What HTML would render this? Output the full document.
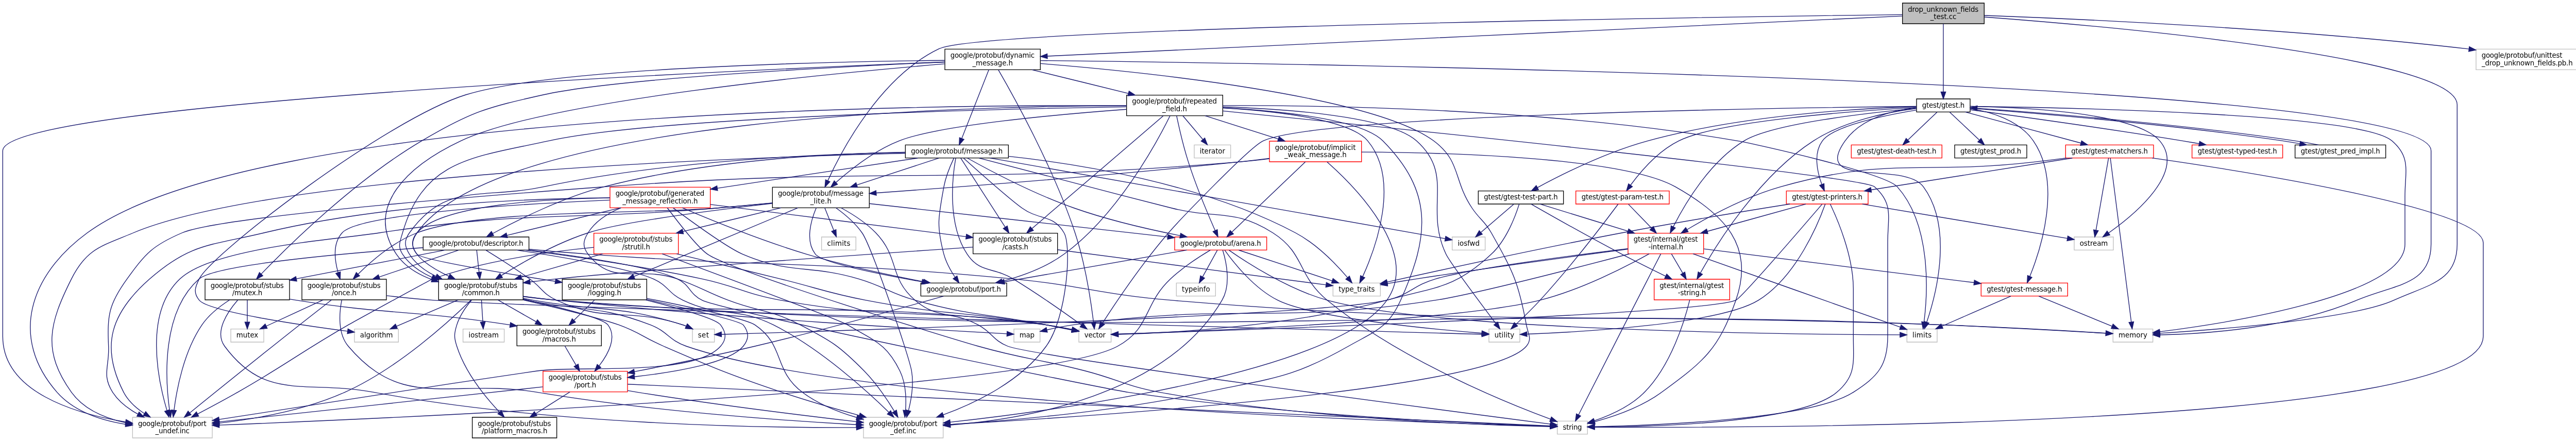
<!DOCTYPE html>
<html lang="en">
<head>
<meta charset="utf-8">
<title>drop_unknown_fields_test.cc include dependency graph</title>
<style>
html,body{margin:0;padding:0;background:#fff;}
body{width:5010px;height:856px;overflow:hidden;}
svg{display:block;will-change:transform;}
.t{font-family:"DejaVu Sans","Liberation Sans",sans-serif;font-size:10px;fill:#000;}
</style>
</head>
<body>
<svg width="5010" height="856" viewBox="0 0 3757.5 642">
<g id="graph0" class="graph" transform="scale(1 1) rotate(0) translate(4 638)">
<polygon fill="white" stroke="none" points="-4,4 -4,-638 3753.5,-638 3753.5,4 -4,4"/>
<g id="node1" class="node">
<polygon fill="#bfbfbf" stroke="black" points="2765.5,-603.5 2765.5,-633.5 2884.5,-633.5 2884.5,-603.5 2765.5,-603.5"/>
<text text-anchor="start" x="2773.5" y="-621.1" class="t" textLength="102.59">drop_unknown_fields</text>
<text text-anchor="middle" x="2825" y="-610.1" class="t" textLength="37.85">_test.cc</text>
</g>
<g id="node2" class="node">
<polygon fill="white" stroke="#bfbfbf" points="3072,-140 3072,-159 3130,-159 3130,-140 3072,-140"/>
<text text-anchor="middle" x="3101" y="-146.6" class="t" textLength="41.83">memory</text>
</g>
<g id="edge1" class="edge">
<path fill="none" stroke="midnightblue" d="M2884.63,-613.27C3061.84,-599.89 3573,-555.27 3573,-485.5 3573,-485.5 3573,-485.5 3573,-282.5 3573,-227.87 3530.69,-223.7 3481,-201 3420.84,-173.52 3225.05,-158.27 3140.49,-152.82"/>
<polygon fill="midnightblue" stroke="midnightblue" points="3140.47,-149.32 3130.27,-152.18 3140.03,-156.3 3140.47,-149.32"/>
</g>
<g id="node3" class="node">
<polygon fill="white" stroke="#bfbfbf" points="3600.5,-536.5 3600.5,-566.5 3749.5,-566.5 3749.5,-536.5 3600.5,-536.5"/>
<text text-anchor="start" x="3608.5" y="-554.1" class="t" textLength="117.53">google/protobuf/unittest</text>
<text text-anchor="middle" x="3675" y="-543.1" class="t" textLength="132.47">_drop_unknown_fields.pb.h</text>
</g>
<g id="edge2" class="edge">
<path fill="none" stroke="midnightblue" d="M2884.95,-615.51C3013.79,-610.79 3326.54,-597.02 3587,-567 3588.08,-566.88 3589.16,-566.75 3590.25,-566.62"/>
<polygon fill="midnightblue" stroke="midnightblue" points="3590.71,-570.09 3600.18,-565.34 3589.81,-563.14 3590.71,-570.09"/>
</g>
<g id="node4" class="node">
<polygon fill="white" stroke="black" points="1371.5,-536.5 1371.5,-566.5 1510.5,-566.5 1510.5,-536.5 1371.5,-536.5"/>
<text text-anchor="start" x="1379.5" y="-554.1" class="t" textLength="122.51">google/protobuf/dynamic</text>
<text text-anchor="middle" x="1441" y="-543.1" class="t" textLength="58.76">_message.h</text>
</g>
<g id="edge3" class="edge">
<path fill="none" stroke="midnightblue" d="M2765.09,-614.69C2543.76,-604.29 1772.08,-568.05 1520.77,-556.25"/>
<polygon fill="midnightblue" stroke="midnightblue" points="1520.78,-552.74 1510.63,-555.77 1520.45,-559.74 1520.78,-552.74"/>
</g>
<g id="node31" class="node">
<polygon fill="white" stroke="black" points="1120.5,-335.5 1120.5,-365.5 1261.5,-365.5 1261.5,-335.5 1120.5,-335.5"/>
<text text-anchor="start" x="1128.5" y="-353.1" class="t" textLength="124.50">google/protobuf/message</text>
<text text-anchor="middle" x="1191" y="-342.1" class="t" textLength="30.88">_lite.h</text>
</g>
<g id="edge116" class="edge">
<path fill="none" stroke="midnightblue" d="M2765.19,-616.77C2498.38,-613.33 1427.16,-597.67 1363,-567 1278.5,-526.61 1222.7,-422.09 1201.08,-375.05"/>
<polygon fill="midnightblue" stroke="midnightblue" points="1204.16,-373.37 1196.88,-365.67 1197.78,-376.23 1204.16,-373.37"/>
</g>
<g id="node38" class="node">
<polygon fill="white" stroke="black" points="2786,-475 2786,-494 2864,-494 2864,-475 2786,-475"/>
<text text-anchor="middle" x="2825" y="-481.6" class="t" textLength="61.75">gtest/gtest.h</text>
</g>
<g id="edge117" class="edge">
<path fill="none" stroke="midnightblue" d="M2825,-603.37C2825,-579.5 2825,-531.18 2825,-504.41"/>
<polygon fill="midnightblue" stroke="midnightblue" points="2828.5,-504.1 2825,-494.1 2821.5,-504.1 2828.5,-504.1"/>
</g>
<g id="edge5" class="edge">
<path fill="none" stroke="midnightblue" d="M1510.67,-549.83C1874.01,-545.91 3535,-522.32 3535,-418.5 3535,-418.5 3535,-418.5 3535,-282.5 3535,-222.37 3482.39,-224.42 3427,-201 3329.76,-159.88 3203.53,-151.79 3140.48,-150.49"/>
<polygon fill="midnightblue" stroke="midnightblue" points="3140.24,-146.99 3130.19,-150.33 3140.13,-153.98 3140.24,-146.99"/>
</g>
<g id="node5" class="node">
<polygon fill="white" stroke="#bfbfbf" points="512,-140 512,-159 576,-159 576,-140 512,-140"/>
<text text-anchor="middle" x="544" y="-146.6" class="t" textLength="47.81">algorithm</text>
</g>
<g id="edge4" class="edge">
<path fill="none" stroke="midnightblue" d="M1371.42,-550.04C1207.86,-548.31 803.06,-539.99 674,-500 560.12,-464.72 305.24,-269.88 286,-232 279.76,-219.72 277.24,-211.64 286,-201 299.62,-184.45 432.18,-165 501.79,-155.81"/>
<polygon fill="midnightblue" stroke="midnightblue" points="502.52,-159.25 511.98,-154.48 501.61,-152.3 502.52,-159.25"/>
</g>
<g id="node6" class="node">
<polygon fill="white" stroke="#bfbfbf" points="1566.5,-140 1566.5,-159 1613.5,-159 1613.5,-140 1566.5,-140"/>
<text text-anchor="middle" x="1590" y="-146.6" class="t" textLength="30.88">vector</text>
</g>
<g id="edge6" class="edge">
<path fill="none" stroke="midnightblue" d="M1449.37,-536.3C1471.09,-498.82 1529.74,-393.63 1561,-299 1575.99,-253.62 1584.32,-197.74 1587.89,-169.2"/>
<polygon fill="midnightblue" stroke="midnightblue" points="1591.39,-169.41 1589.09,-159.06 1584.44,-168.58 1591.39,-169.41"/>
</g>
<g id="node7" class="node">
<polygon fill="white" stroke="black" points="634.5,-201.5 634.5,-231.5 757.5,-231.5 757.5,-201.5 634.5,-201.5"/>
<text text-anchor="start" x="642.5" y="-219.1" class="t" textLength="106.57">google/protobuf/stubs</text>
<text text-anchor="middle" x="696" y="-208.1" class="t" textLength="54.78">/common.h</text>
</g>
<g id="edge7" class="edge">
<path fill="none" stroke="midnightblue" d="M1371.26,-545.03C1205.37,-531.21 791.82,-491.75 667,-433 590.64,-397.06 526,-338.1 573,-268 585.04,-250.04 604.74,-238.46 624.87,-231"/>
<polygon fill="midnightblue" stroke="midnightblue" points="626.1,-234.28 634.45,-227.76 623.85,-227.65 626.1,-234.28"/>
</g>
<g id="node14" class="node">
<polygon fill="white" stroke="#bfbfbf" points="1253,-0.5 1253,-30.5 1369,-30.5 1369,-0.5 1253,-0.5"/>
<text text-anchor="start" x="1261" y="-18.1" class="t" textLength="99.60">google/protobuf/port</text>
<text text-anchor="middle" x="1311" y="-7.1" class="t" textLength="37.85">_def.inc</text>
</g>
<g id="edge114" class="edge">
<path fill="none" stroke="midnightblue" d="M1510.76,-545.43C1657.65,-533.54 1992.73,-499.71 2083,-433 2123.34,-403.19 2111.09,-376.68 2139,-335 2150.28,-318.16 2157.06,-316.67 2167,-299 2198.24,-243.46 2206.48,-227.67 2218,-165 2220.49,-151.45 2226.87,-144.54 2218,-134 2163.97,-69.83 1581.08,-31.54 1379.29,-20.12"/>
<polygon fill="midnightblue" stroke="midnightblue" points="1379.29,-16.62 1369.11,-19.55 1378.9,-23.61 1379.29,-16.62"/>
</g>
<g id="node15" class="node">
<polygon fill="white" stroke="#bfbfbf" points="189,-0.5 189,-30.5 305,-30.5 305,-0.5 189,-0.5"/>
<text text-anchor="start" x="197" y="-18.1" class="t" textLength="99.60">google/protobuf/port</text>
<text text-anchor="middle" x="247" y="-7.1" class="t" textLength="49.80">_undef.inc</text>
</g>
<g id="edge115" class="edge">
<path fill="none" stroke="midnightblue" d="M1371.5,-547.82C1083.65,-536.28 0,-488.21 0,-418.5 0,-418.5 0,-418.5 0,-148.5 0,-67.12 105.59,-35.73 178.69,-23.75"/>
<polygon fill="midnightblue" stroke="midnightblue" points="179.43,-27.17 188.78,-22.18 178.36,-20.26 179.43,-27.17"/>
</g>
<g id="node17" class="node">
<polygon fill="white" stroke="black" points="1314,-408 1314,-427 1464,-427 1464,-408 1314,-408"/>
<text text-anchor="middle" x="1389" y="-414.6" class="t" textLength="133.46">google/protobuf/message.h</text>
</g>
<g id="edge25" class="edge">
<path fill="none" stroke="midnightblue" d="M1435.44,-536.37C1425.95,-512.29 1406.65,-463.31 1396.17,-436.7"/>
<polygon fill="midnightblue" stroke="midnightblue" points="1399.31,-435.12 1392.39,-427.1 1392.8,-437.68 1399.31,-435.12"/>
</g>
<g id="node27" class="node">
<polygon fill="white" stroke="black" points="294.5,-201.5 294.5,-231.5 417.5,-231.5 417.5,-201.5 294.5,-201.5"/>
<text text-anchor="start" x="302.5" y="-219.1" class="t" textLength="106.57">google/protobuf/stubs</text>
<text text-anchor="middle" x="356" y="-208.1" class="t" textLength="43.82">/mutex.h</text>
</g>
<g id="edge93" class="edge">
<path fill="none" stroke="midnightblue" d="M1371.35,-547.63C1226.42,-541.25 896.76,-524.48 787,-500 704.9,-481.69 682.46,-475.72 610,-433 513.16,-375.9 416.92,-281.25 376.22,-239.01"/>
<polygon fill="midnightblue" stroke="midnightblue" points="378.72,-236.56 369.28,-231.75 373.66,-241.4 378.72,-236.56"/>
</g>
<g id="node35" class="node">
<polygon fill="white" stroke="black" points="1636,-469.5 1636,-499.5 1776,-499.5 1776,-469.5 1636,-469.5"/>
<text text-anchor="start" x="1644" y="-487.1" class="t" textLength="123.50">google/protobuf/repeated</text>
<text text-anchor="middle" x="1706" y="-476.1" class="t" textLength="35.86">_field.h</text>
</g>
<g id="edge94" class="edge">
<path fill="none" stroke="midnightblue" d="M1498.17,-536.48C1539.39,-526.37 1595.17,-512.68 1638.57,-502.04"/>
<polygon fill="midnightblue" stroke="midnightblue" points="1639.59,-505.39 1648.47,-499.61 1637.92,-498.59 1639.59,-505.39"/>
</g>
<g id="edge11" class="edge">
<path fill="none" stroke="midnightblue" d="M757.54,-206.14C773.3,-204.08 790.25,-202.17 806,-201 1700.99,-134.25 1928.08,-196.55 2825,-165 2909.29,-162.04 3007.96,-156.31 3061.51,-153.01"/>
<polygon fill="midnightblue" stroke="midnightblue" points="3061.84,-156.49 3071.6,-152.38 3061.41,-149.51 3061.84,-156.49"/>
</g>
<g id="edge8" class="edge">
<path fill="none" stroke="midnightblue" d="M663.02,-201.4C636.23,-189.94 598.81,-173.94 573.12,-162.95"/>
<polygon fill="midnightblue" stroke="midnightblue" points="574.46,-159.72 563.89,-159.01 571.71,-166.16 574.46,-159.72"/>
</g>
<g id="edge14" class="edge">
<path fill="none" stroke="midnightblue" d="M757.57,-206.49C773.33,-204.43 790.27,-202.43 806,-201 1121.99,-172.24 1204.22,-204.86 1519,-165 1531.36,-163.44 1544.77,-160.91 1556.58,-158.41"/>
<polygon fill="midnightblue" stroke="midnightblue" points="1557.47,-161.8 1566.48,-156.23 1555.96,-154.96 1557.47,-161.8"/>
</g>
<g id="node8" class="node">
<polygon fill="white" stroke="#bfbfbf" points="670,-140 670,-159 730,-159 730,-140 670,-140"/>
<text text-anchor="middle" x="700" y="-146.6" class="t" textLength="43.82">iostream</text>
</g>
<g id="edge9" class="edge">
<path fill="none" stroke="midnightblue" d="M696.87,-201.4C697.45,-191.96 698.22,-179.45 698.85,-169.19"/>
<polygon fill="midnightblue" stroke="midnightblue" points="702.34,-169.39 699.46,-159.19 695.36,-168.96 702.34,-169.39"/>
</g>
<g id="node9" class="node">
<polygon fill="white" stroke="#bfbfbf" points="1472,-140 1472,-159 1510,-159 1510,-140 1472,-140"/>
<text text-anchor="middle" x="1491" y="-146.6" class="t" textLength="21.91">map</text>
</g>
<g id="edge10" class="edge">
<path fill="none" stroke="midnightblue" d="M757.6,-206.75C773.35,-204.68 790.29,-202.61 806,-201 1059.31,-174.99 1366.66,-157.23 1461.63,-152.06"/>
<polygon fill="midnightblue" stroke="midnightblue" points="1462.1,-155.54 1471.9,-151.5 1461.72,-148.55 1462.1,-155.54"/>
</g>
<g id="node10" class="node">
<polygon fill="white" stroke="#bfbfbf" points="1004,-140 1004,-159 1036,-159 1036,-140 1004,-140"/>
<text text-anchor="middle" x="1020" y="-146.6" class="t" textLength="15.94">set</text>
</g>
<g id="edge12" class="edge">
<path fill="none" stroke="midnightblue" d="M757.78,-203.58C762.59,-202.69 767.37,-201.82 772,-201 868.68,-183.8 896.39,-194.67 990,-165 991.67,-164.47 993.36,-163.87 995.05,-163.21"/>
<polygon fill="midnightblue" stroke="midnightblue" points="996.73,-166.29 1004.47,-159.05 993.91,-159.89 996.73,-166.29"/>
</g>
<g id="node11" class="node">
<polygon fill="white" stroke="#bfbfbf" points="2263,-6 2263,-25 2307,-25 2307,-6 2263,-6"/>
<text text-anchor="middle" x="2285" y="-12.6" class="t" textLength="27.89">string</text>
</g>
<g id="edge13" class="edge">
<path fill="none" stroke="midnightblue" d="M757.69,-202.11C759.48,-201.73 761.25,-201.36 763,-201 842.87,-184.37 866.86,-194.31 943,-165 968.11,-155.33 969.59,-142.85 995,-134 1237.85,-49.39 2076.41,-22.18 2252.43,-17.34"/>
<polygon fill="midnightblue" stroke="midnightblue" points="2252.7,-20.83 2262.6,-17.06 2252.51,-13.83 2252.7,-20.83"/>
</g>
<g id="node12" class="node">
<polygon fill="white" stroke="red" points="786.5,-67.5 786.5,-97.5 909.5,-97.5 909.5,-67.5 786.5,-67.5"/>
<text text-anchor="start" x="794.5" y="-85.1" class="t" textLength="106.57">google/protobuf/stubs</text>
<text text-anchor="middle" x="848" y="-74.1" class="t" textLength="31.87">/port.h</text>
</g>
<g id="edge15" class="edge">
<path fill="none" stroke="midnightblue" d="M757.99,-202.47C808.7,-191.18 873.27,-175.12 881,-165 894.61,-147.17 881.72,-122.96 868.27,-105.56"/>
<polygon fill="midnightblue" stroke="midnightblue" points="870.8,-103.12 861.74,-97.63 865.39,-107.57 870.8,-103.12"/>
</g>
<g id="node13" class="node">
<polygon fill="white" stroke="black" points="683.5,-0.5 683.5,-30.5 806.5,-30.5 806.5,-0.5 683.5,-0.5"/>
<text text-anchor="start" x="691.5" y="-18.1" class="t" textLength="106.57">google/protobuf/stubs</text>
<text text-anchor="middle" x="745" y="-7.1" class="t" textLength="95.62">/platform_macros.h</text>
</g>
<g id="edge22" class="edge">
<path fill="none" stroke="midnightblue" d="M682.64,-201.32C674.66,-191.84 665.27,-178.64 661,-165 656.89,-151.85 656.79,-147.12 661,-134 673.14,-96.15 702.46,-60.12 723.02,-38.17"/>
<polygon fill="midnightblue" stroke="midnightblue" points="725.75,-40.38 730.15,-30.74 720.7,-35.53 725.75,-40.38"/>
</g>
<g id="edge23" class="edge">
<path fill="none" stroke="midnightblue" d="M757.79,-201.4C806.97,-189.91 871.61,-174.14 897,-165 927.11,-154.16 932.62,-146.71 962,-134 1037.3,-101.43 1056.25,-93.17 1134,-67 1171.07,-54.52 1213.17,-42.43 1247,-33.21"/>
<polygon fill="midnightblue" stroke="midnightblue" points="1248.02,-36.56 1256.76,-30.56 1246.19,-29.8 1248.02,-36.56"/>
</g>
<g id="edge24" class="edge">
<path fill="none" stroke="midnightblue" d="M682.07,-201.44C651.63,-171.59 575.65,-101.77 498,-67 439.43,-40.77 367.09,-28.07 315.14,-21.97"/>
<polygon fill="midnightblue" stroke="midnightblue" points="315.36,-18.47 305.03,-20.84 314.58,-25.43 315.36,-18.47"/>
</g>
<g id="node16" class="node">
<polygon fill="white" stroke="black" points="748.5,-134.5 748.5,-164.5 871.5,-164.5 871.5,-134.5 748.5,-134.5"/>
<text text-anchor="start" x="756.5" y="-152.1" class="t" textLength="106.57">google/protobuf/stubs</text>
<text text-anchor="middle" x="810" y="-141.1" class="t" textLength="48.80">/macros.h</text>
</g>
<g id="edge20" class="edge">
<path fill="none" stroke="midnightblue" d="M720.74,-201.4C737.02,-192.11 758.54,-179.84 776.37,-169.67"/>
<polygon fill="midnightblue" stroke="midnightblue" points="778.36,-172.57 785.31,-164.58 774.89,-166.49 778.36,-172.57"/>
</g>
<g id="edge16" class="edge">
<path fill="none" stroke="midnightblue" d="M909.75,-78.71C1156.78,-67.53 2069.4,-26.25 2252.78,-17.96"/>
<polygon fill="midnightblue" stroke="midnightblue" points="2253.03,-21.45 2262.86,-17.5 2252.71,-14.46 2253.03,-21.45"/>
</g>
<g id="edge17" class="edge">
<path fill="none" stroke="midnightblue" d="M825.65,-67.4C811.07,-58.2 791.85,-46.07 775.83,-35.95"/>
<polygon fill="midnightblue" stroke="midnightblue" points="777.63,-32.95 767.31,-30.58 773.89,-38.87 777.63,-32.95"/>
</g>
<g id="edge18" class="edge">
<path fill="none" stroke="midnightblue" d="M909.75,-69.4C914.56,-68.56 919.36,-67.75 924,-67 1035.25,-49.15 1165.25,-33.18 1242.71,-24.18"/>
<polygon fill="midnightblue" stroke="midnightblue" points="1243.29,-27.64 1252.82,-23.01 1242.49,-20.68 1243.29,-27.64"/>
</g>
<g id="edge19" class="edge">
<path fill="none" stroke="midnightblue" d="M786.23,-74.82C673.01,-62.57 433.07,-36.62 315.22,-23.88"/>
<polygon fill="midnightblue" stroke="midnightblue" points="315.55,-20.39 305.23,-22.8 314.8,-27.35 315.55,-20.39"/>
</g>
<g id="edge21" class="edge">
<path fill="none" stroke="midnightblue" d="M818.25,-134.4C823.03,-126.22 829.16,-115.73 834.62,-106.39"/>
<polygon fill="midnightblue" stroke="midnightblue" points="837.75,-107.98 839.77,-97.58 831.7,-104.44 837.75,-107.98"/>
</g>
<g id="edge29" class="edge">
<path fill="none" stroke="midnightblue" d="M1387.29,-407.87C1382.95,-383.51 1373.9,-313.03 1404,-268 1422.78,-239.9 1442.12,-249.58 1471,-232 1506.88,-210.16 1546.83,-181.95 1570.11,-165.1"/>
<polygon fill="midnightblue" stroke="midnightblue" points="1572.43,-167.74 1578.45,-159.03 1568.31,-162.08 1572.43,-167.74"/>
</g>
<g id="edge33" class="edge">
<path fill="none" stroke="midnightblue" d="M1313.53,-416.12C1198.64,-414.22 973.54,-405.24 787,-366 697.32,-347.14 645.24,-373.59 592,-299 584,-287.79 584.69,-279.68 592,-268 600.95,-253.7 615.24,-243.35 630.39,-235.89"/>
<polygon fill="midnightblue" stroke="midnightblue" points="632.21,-238.91 639.9,-231.61 629.34,-232.52 632.21,-238.91"/>
</g>
<g id="edge27" class="edge">
<path fill="none" stroke="midnightblue" d="M1421.4,-407.9C1478.18,-392.86 1599.38,-360.93 1702,-335 1767.22,-318.52 1792.23,-335.09 1849,-299 1896.21,-268.99 1884.66,-236.38 1928,-201 2034.15,-114.34 2187.57,-52.05 2253.24,-27.75"/>
<polygon fill="midnightblue" stroke="midnightblue" points="2254.45,-31.03 2262.64,-24.31 2252.04,-24.46 2254.45,-31.03"/>
</g>
<g id="edge91" class="edge">
<path fill="none" stroke="midnightblue" d="M1398.73,-407.77C1419.24,-389.43 1466.5,-347.52 1484,-335 1509.6,-316.68 1529.39,-326.34 1545,-299 1556.16,-279.45 1549.51,-176.37 1519,-134 1482.49,-83.31 1416.94,-51.59 1369.16,-34.07"/>
<polygon fill="midnightblue" stroke="midnightblue" points="1370.15,-30.7 1359.55,-30.65 1367.8,-37.3 1370.15,-30.7"/>
</g>
<g id="edge92" class="edge">
<path fill="none" stroke="midnightblue" d="M1313.85,-414.89C1084.18,-409.07 394.74,-384.73 190,-299 144,-279.74 122.38,-276.56 100,-232 67.09,-166.47 57.39,-126.69 100,-67 118.1,-41.64 149.77,-28.89 179.09,-22.52"/>
<polygon fill="midnightblue" stroke="midnightblue" points="179.78,-25.95 188.92,-20.6 178.44,-19.08 179.78,-25.95"/>
</g>
<g id="node18" class="node">
<polygon fill="white" stroke="#bfbfbf" points="2110,-274 2110,-293 2158,-293 2158,-274 2110,-274"/>
<text text-anchor="middle" x="2134" y="-280.6" class="t" textLength="31.87">iosfwd</text>
</g>
<g id="edge26" class="edge">
<path fill="none" stroke="midnightblue" d="M1437.02,-407.99C1576.49,-383.28 1979.29,-311.91 2099.64,-290.59"/>
<polygon fill="midnightblue" stroke="midnightblue" points="2100.52,-293.99 2109.75,-288.8 2099.3,-287.09 2100.52,-293.99"/>
</g>
<g id="node19" class="node">
<polygon fill="white" stroke="#bfbfbf" points="1936.5,-207 1936.5,-226 2005.5,-226 2005.5,-207 1936.5,-207"/>
<text text-anchor="middle" x="1971" y="-213.6" class="t" textLength="52.79">type_traits</text>
</g>
<g id="edge28" class="edge">
<path fill="none" stroke="midnightblue" d="M1464.12,-410.42C1564.51,-399.73 1745.59,-371.36 1882,-299 1913.14,-282.48 1941.79,-252.48 1957.77,-233.85"/>
<polygon fill="midnightblue" stroke="midnightblue" points="1960.46,-236.09 1964.19,-226.17 1955.09,-231.6 1960.46,-236.09"/>
</g>
<g id="node20" class="node">
<polygon fill="white" stroke="black" points="1412.5,-268.5 1412.5,-298.5 1535.5,-298.5 1535.5,-268.5 1412.5,-268.5"/>
<text text-anchor="start" x="1420.5" y="-286.1" class="t" textLength="106.57">google/protobuf/stubs</text>
<text text-anchor="middle" x="1474" y="-275.1" class="t" textLength="37.85">/casts.h</text>
</g>
<g id="edge30" class="edge">
<path fill="none" stroke="midnightblue" d="M1394.58,-407.84C1407.56,-387.67 1440.17,-337.03 1459.33,-307.29"/>
<polygon fill="midnightblue" stroke="midnightblue" points="1462.33,-309.09 1464.8,-298.78 1456.45,-305.3 1462.33,-309.09"/>
</g>
<g id="node21" class="node">
<polygon fill="white" stroke="red" points="1706,-274 1706,-293 1840,-293 1840,-274 1706,-274"/>
<text text-anchor="middle" x="1773" y="-280.6" class="t" textLength="117.53">google/protobuf/arena.h</text>
</g>
<g id="edge34" class="edge">
<path fill="none" stroke="midnightblue" d="M1404.09,-407.95C1433.34,-391.7 1500.14,-356.09 1560,-335 1610.77,-317.11 1670.57,-303.56 1713.86,-295.02"/>
<polygon fill="midnightblue" stroke="midnightblue" points="1714.79,-298.4 1723.94,-293.06 1713.45,-291.53 1714.79,-298.4"/>
</g>
<g id="node25" class="node">
<polygon fill="white" stroke="black" points="1336.5,-207 1336.5,-226 1461.5,-226 1461.5,-207 1336.5,-207"/>
<text text-anchor="middle" x="1399" y="-213.6" class="t" textLength="108.56">google/protobuf/port.h</text>
</g>
<g id="edge90" class="edge">
<path fill="none" stroke="midnightblue" d="M1384.64,-407.84C1379.95,-397.99 1372.78,-381.3 1370,-366 1362.21,-323.15 1358.78,-310.08 1370,-268 1373.2,-255.98 1380.02,-243.86 1386.25,-234.5"/>
<polygon fill="midnightblue" stroke="midnightblue" points="1389.21,-236.36 1392.11,-226.17 1383.49,-232.33 1389.21,-236.36"/>
</g>
<g id="node26" class="node">
<polygon fill="white" stroke="black" points="612,-274 612,-293 766,-293 766,-274 612,-274"/>
<text text-anchor="middle" x="689" y="-280.6" class="t" textLength="137.45">google/protobuf/descriptor.h</text>
</g>
<g id="edge43" class="edge">
<path fill="none" stroke="midnightblue" d="M1313.66,-416.46C1212.32,-414.74 1027.26,-405.76 875,-366 814.2,-350.12 747.9,-316.84 713.23,-298.09"/>
<polygon fill="midnightblue" stroke="midnightblue" points="714.77,-294.95 704.32,-293.22 711.41,-301.09 714.77,-294.95"/>
</g>
<g id="node30" class="node">
<polygon fill="white" stroke="red" points="884,-335.5 884,-365.5 1030,-365.5 1030,-335.5 884,-335.5"/>
<text text-anchor="start" x="892" y="-353.1" class="t" textLength="129.48">google/protobuf/generated</text>
<text text-anchor="middle" x="957" y="-342.1" class="t" textLength="109.56">_message_reflection.h</text>
</g>
<g id="edge61" class="edge">
<path fill="none" stroke="midnightblue" d="M1332.08,-407.94C1257.48,-396.71 1126.07,-376.94 1040.27,-364.03"/>
<polygon fill="midnightblue" stroke="midnightblue" points="1040.71,-360.56 1030.3,-362.53 1039.67,-367.48 1040.71,-360.56"/>
</g>
<g id="edge71" class="edge">
<path fill="none" stroke="midnightblue" d="M1362.71,-407.87C1332.48,-397.95 1282.11,-381.41 1243.71,-368.81"/>
<polygon fill="midnightblue" stroke="midnightblue" points="1244.32,-365.32 1233.73,-365.53 1242.14,-371.97 1244.32,-365.32"/>
</g>
<g id="edge31" class="edge">
<path fill="none" stroke="midnightblue" d="M1412.44,-278.29C1270.34,-268.49 922.7,-244.09 806,-232 793.6,-230.72 780.45,-229.15 767.7,-227.54"/>
<polygon fill="midnightblue" stroke="midnightblue" points="767.96,-224.04 757.6,-226.23 767.07,-230.98 767.96,-224.04"/>
</g>
<g id="edge32" class="edge">
<path fill="none" stroke="midnightblue" d="M1535.69,-274.43C1637.22,-261.15 1837.13,-235.01 1926.27,-223.35"/>
<polygon fill="midnightblue" stroke="midnightblue" points="1926.86,-226.8 1936.32,-222.04 1925.95,-219.86 1926.86,-226.8"/>
</g>
<g id="edge41" class="edge">
<path fill="none" stroke="midnightblue" d="M1775.96,-273.92C1780.81,-258.22 1788.64,-224.34 1775,-201 1694.05,-62.52 1487.72,-27.84 1379.54,-19.25"/>
<polygon fill="midnightblue" stroke="midnightblue" points="1379.62,-15.75 1369.39,-18.5 1379.1,-22.73 1379.62,-15.75"/>
</g>
<g id="edge42" class="edge">
<path fill="none" stroke="midnightblue" d="M1758.05,-273.99C1742.58,-264.79 1718.18,-249.11 1700,-232 1659.66,-194.04 1671.61,-160.55 1623,-134 1507.43,-70.89 576.87,-29.56 315.22,-19.11"/>
<polygon fill="midnightblue" stroke="midnightblue" points="315.22,-15.61 305.09,-18.71 314.95,-22.6 315.22,-15.61"/>
</g>
<g id="edge36" class="edge">
<path fill="none" stroke="midnightblue" d="M1799.29,-273.87C1834.23,-262.4 1896.08,-242.09 1935.24,-229.24"/>
<polygon fill="midnightblue" stroke="midnightblue" points="1936.5,-232.51 1944.91,-226.06 1934.32,-225.86 1936.5,-232.51"/>
</g>
<g id="node22" class="node">
<polygon fill="white" stroke="#bfbfbf" points="2772,-140 2772,-159 2816,-159 2816,-140 2772,-140"/>
<text text-anchor="middle" x="2794" y="-146.6" class="t" textLength="27.89">limits</text>
</g>
<g id="edge35" class="edge">
<path fill="none" stroke="midnightblue" d="M1785.09,-273.8C1810.23,-256.26 1870.59,-216.96 1928,-201 2089.41,-156.13 2624.31,-151.11 2761.64,-150.56"/>
<polygon fill="midnightblue" stroke="midnightblue" points="2761.92,-154.06 2771.91,-150.53 2761.89,-147.06 2761.92,-154.06"/>
</g>
<g id="node23" class="node">
<polygon fill="white" stroke="#bfbfbf" points="2163.5,-140 2163.5,-159 2208.5,-159 2208.5,-140 2163.5,-140"/>
<text text-anchor="middle" x="2186" y="-146.6" class="t" textLength="28.88">utility</text>
</g>
<g id="edge37" class="edge">
<path fill="none" stroke="midnightblue" d="M1778.89,-273.83C1791.06,-256.69 1820.78,-218.63 1856,-201 1907.87,-175.04 2080.36,-158.8 2153.15,-152.95"/>
<polygon fill="midnightblue" stroke="midnightblue" points="2153.44,-156.44 2163.14,-152.17 2152.89,-149.46 2153.44,-156.44"/>
</g>
<g id="node24" class="node">
<polygon fill="white" stroke="#bfbfbf" points="1708.5,-207 1708.5,-226 1765.5,-226 1765.5,-207 1708.5,-207"/>
<text text-anchor="middle" x="1737" y="-213.6" class="t" textLength="40.84">typeinfo</text>
</g>
<g id="edge38" class="edge">
<path fill="none" stroke="midnightblue" d="M1768.14,-273.73C1762.69,-263.89 1753.7,-247.66 1746.78,-235.16"/>
<polygon fill="midnightblue" stroke="midnightblue" points="1749.69,-233.18 1741.78,-226.13 1743.56,-236.57 1749.69,-233.18"/>
</g>
<g id="edge39" class="edge">
<path fill="none" stroke="midnightblue" d="M1723.72,-273.94C1655.24,-262.03 1531.46,-240.52 1458.1,-227.77"/>
<polygon fill="midnightblue" stroke="midnightblue" points="1458.54,-224.3 1448.09,-226.03 1457.34,-231.19 1458.54,-224.3"/>
</g>
<g id="edge40" class="edge">
<path fill="none" stroke="midnightblue" d="M1369.38,-206.92C1315.18,-191.37 1196.31,-157.91 1095,-134 1036.22,-120.12 969.04,-106.53 919.59,-96.95"/>
<polygon fill="midnightblue" stroke="midnightblue" points="920.12,-93.49 909.64,-95.03 918.79,-100.36 920.12,-93.49"/>
</g>
<g id="edge44" class="edge">
<path fill="none" stroke="midnightblue" d="M766.07,-275.16C793.22,-272.7 823.95,-270.06 852,-268 1126.83,-247.79 1196.7,-258.5 1471,-232 1573.23,-222.12 1597.65,-209.54 1700,-201 2198.52,-159.39 2325.19,-186.12 2825,-165 2909.27,-161.44 3007.94,-155.93 3061.51,-152.83"/>
<polygon fill="midnightblue" stroke="midnightblue" points="3061.82,-156.32 3071.6,-152.24 3061.41,-149.33 3061.82,-156.32"/>
</g>
<g id="edge47" class="edge">
<path fill="none" stroke="midnightblue" d="M760.02,-273.96C826.93,-265.36 929.81,-250.7 1018,-232 1069.36,-221.11 1080.33,-210.36 1132,-201 1301.98,-170.22 1348.12,-190.32 1519,-165 1531.32,-163.17 1544.73,-160.59 1556.54,-158.11"/>
<polygon fill="midnightblue" stroke="midnightblue" points="1557.41,-161.51 1566.45,-155.98 1555.93,-154.66 1557.41,-161.51"/>
</g>
<g id="edge48" class="edge">
<path fill="none" stroke="midnightblue" d="M689.94,-273.73C690.83,-265.54 692.19,-252.92 693.39,-241.71"/>
<polygon fill="midnightblue" stroke="midnightblue" points="696.89,-241.91 694.48,-231.59 689.93,-241.16 696.89,-241.91"/>
</g>
<g id="edge45" class="edge">
<path fill="none" stroke="midnightblue" d="M703.08,-273.96C718.91,-264.22 745.25,-247.63 767,-232 784.98,-219.08 785.9,-210.28 806,-201 881.66,-166.08 910.95,-191.35 990,-165 991.62,-164.46 993.27,-163.85 994.92,-163.2"/>
<polygon fill="midnightblue" stroke="midnightblue" points="996.4,-166.36 1004.13,-159.11 993.57,-159.97 996.4,-166.36"/>
</g>
<g id="edge46" class="edge">
<path fill="none" stroke="midnightblue" d="M765.61,-274C839.21,-264.99 944.59,-249.65 982,-232 1001.1,-222.99 999.1,-210.41 1018,-201 1049.55,-185.3 1603.13,-72.1 1638,-67 1872.28,-32.7 2157.92,-20.68 2252.72,-17.48"/>
<polygon fill="midnightblue" stroke="midnightblue" points="2252.93,-20.97 2262.81,-17.15 2252.7,-13.98 2252.93,-20.97"/>
</g>
<g id="edge59" class="edge">
<path fill="none" stroke="midnightblue" d="M747.9,-273.97C812.6,-264.08 911.98,-247.18 947,-232 968.62,-222.63 968.74,-211.15 990,-201 1044.88,-174.8 1067.68,-192.33 1122,-165 1189.99,-130.8 1257.03,-69.96 1289.97,-37.79"/>
<polygon fill="midnightblue" stroke="midnightblue" points="1292.56,-40.16 1297.21,-30.64 1287.64,-35.17 1292.56,-40.16"/>
</g>
<g id="edge60" class="edge">
<path fill="none" stroke="midnightblue" d="M611.69,-277.43C501.56,-269.52 310.06,-252.95 286,-232 230.77,-183.9 236.57,-86.18 242.83,-40.74"/>
<polygon fill="midnightblue" stroke="midnightblue" points="246.33,-41.04 244.36,-30.63 239.41,-39.99 246.33,-41.04"/>
</g>
<g id="edge49" class="edge">
<path fill="none" stroke="midnightblue" d="M644,-273.98C593.82,-264.45 509.98,-248.42 427.6,-232.11"/>
<polygon fill="midnightblue" stroke="midnightblue" points="428.06,-228.63 417.57,-230.12 426.69,-235.49 428.06,-228.63"/>
</g>
<g id="node29" class="node">
<polygon fill="white" stroke="black" points="435.5,-201.5 435.5,-231.5 558.5,-231.5 558.5,-201.5 435.5,-201.5"/>
<text text-anchor="start" x="443.5" y="-219.1" class="t" textLength="106.57">google/protobuf/stubs</text>
<text text-anchor="middle" x="497" y="-208.1" class="t" textLength="35.86">/once.h</text>
</g>
<g id="edge54" class="edge">
<path fill="none" stroke="midnightblue" d="M663.5,-273.87C634.19,-263.95 585.35,-247.41 548.12,-234.81"/>
<polygon fill="midnightblue" stroke="midnightblue" points="549.03,-231.42 538.44,-231.53 546.79,-238.05 549.03,-231.42"/>
</g>
<g id="edge52" class="edge">
<path fill="none" stroke="midnightblue" d="M342.38,-201.46C327.43,-184.31 307.5,-155 323,-134 382.93,-52.78 440.74,-85.31 540,-67 796.17,-19.74 1107.34,-15.12 1242.67,-15.65"/>
<polygon fill="midnightblue" stroke="midnightblue" points="1242.87,-19.15 1252.88,-15.7 1242.9,-12.15 1242.87,-19.15"/>
</g>
<g id="edge53" class="edge">
<path fill="none" stroke="midnightblue" d="M330.49,-201.48C316.67,-192.67 300.34,-180.13 290,-165 263.71,-126.55 253.3,-71.99 249.33,-40.83"/>
<polygon fill="midnightblue" stroke="midnightblue" points="252.8,-40.38 248.17,-30.85 245.84,-41.18 252.8,-40.38"/>
</g>
<g id="edge51" class="edge">
<path fill="none" stroke="midnightblue" d="M417.51,-202.6C420.72,-202.03 423.89,-201.5 427,-201 561.61,-179.53 599.4,-186.63 738.31,-165.01"/>
<polygon fill="midnightblue" stroke="midnightblue" points="739.15,-168.42 748.49,-163.4 738.06,-161.5 739.15,-168.42"/>
</g>
<g id="node28" class="node">
<polygon fill="white" stroke="#bfbfbf" points="332,-140 332,-159 380,-159 380,-140 332,-140"/>
<text text-anchor="middle" x="356" y="-146.6" class="t" textLength="31.87">mutex</text>
</g>
<g id="edge50" class="edge">
<path fill="none" stroke="midnightblue" d="M356,-201.4C356,-192.06 356,-179.71 356,-169.52"/>
<polygon fill="midnightblue" stroke="midnightblue" points="359.5,-169.19 356,-159.19 352.5,-169.19 359.5,-169.19"/>
</g>
<g id="edge57" class="edge">
<path fill="none" stroke="midnightblue" d="M493.48,-201.26C489.97,-183.37 487.14,-152.73 503,-134 584.3,-38 653.95,-87.88 778,-67 943.49,-39.15 1140.67,-25.46 1242.52,-19.82"/>
<polygon fill="midnightblue" stroke="midnightblue" points="1242.88,-23.3 1252.67,-19.26 1242.5,-16.31 1242.88,-23.3"/>
</g>
<g id="edge58" class="edge">
<path fill="none" stroke="midnightblue" d="M478.73,-201.43C465.67,-191.34 447.7,-177.4 432,-165 374.55,-119.63 307.69,-65.67 272.18,-36.92"/>
<polygon fill="midnightblue" stroke="midnightblue" points="274.24,-34.09 264.27,-30.51 269.84,-39.53 274.24,-34.09"/>
</g>
<g id="edge56" class="edge">
<path fill="none" stroke="midnightblue" d="M558.59,-207.57C579.9,-205.09 603.97,-202.59 626,-201 783.15,-189.64 1942.39,-157.24 2153.17,-151.41"/>
<polygon fill="midnightblue" stroke="midnightblue" points="2153.39,-154.9 2163.29,-151.13 2153.2,-147.9 2153.39,-154.9"/>
</g>
<g id="edge55" class="edge">
<path fill="none" stroke="midnightblue" d="M466.41,-201.4C441.77,-190.04 407.45,-174.22 383.64,-163.24"/>
<polygon fill="midnightblue" stroke="midnightblue" points="385,-160.02 374.45,-159.01 382.07,-166.37 385,-160.02"/>
</g>
<g id="edge63" class="edge">
<path fill="none" stroke="midnightblue" d="M976,-335.26C1004.16,-314.39 1055.92,-276.99 1077,-268 1147.64,-237.86 1172.32,-253.64 1246,-232 1283.38,-221.02 1290.49,-211.54 1328,-201 1411.16,-177.64 1434.23,-181.64 1519,-165 1531.22,-162.6 1544.61,-159.89 1556.43,-157.46"/>
<polygon fill="midnightblue" stroke="midnightblue" points="1557.26,-160.87 1566.35,-155.42 1555.85,-154.01 1557.26,-160.87"/>
</g>
<g id="edge65" class="edge">
<path fill="none" stroke="midnightblue" d="M883.8,-349.86C790.95,-348.56 638.59,-340.03 603,-299 582.1,-274.91 616.77,-251.34 649.55,-235.79"/>
<polygon fill="midnightblue" stroke="midnightblue" points="651.05,-238.96 658.7,-231.63 648.14,-232.59 651.05,-238.96"/>
</g>
<g id="edge62" class="edge">
<path fill="none" stroke="midnightblue" d="M967.47,-335.39C983.06,-314.68 1012.06,-277.5 1026,-268 1064.21,-241.97 1375.53,-146.66 1420,-134 1488.44,-114.52 1507.11,-115.82 1576,-98 1624.35,-85.49 1634.88,-76.02 1684,-67 1898.75,-27.55 2162.41,-18.86 2252.81,-17"/>
<polygon fill="midnightblue" stroke="midnightblue" points="2253.03,-20.49 2262.96,-16.8 2252.9,-13.49 2253.03,-20.49"/>
</g>
<g id="edge69" class="edge">
<path fill="none" stroke="midnightblue" d="M900.09,-335.4C881.51,-327.8 862.87,-316.3 852,-299 844.67,-287.34 843.66,-278.97 852,-268 888.3,-220.28 925.35,-251.62 982,-232 1015.69,-220.33 1022.67,-213.68 1056,-201 1102.11,-183.46 1117.18,-187.66 1161,-165 1206.25,-141.6 1218.23,-134.27 1254,-98 1271.49,-80.26 1287.37,-56.63 1297.9,-39.38"/>
<polygon fill="midnightblue" stroke="midnightblue" points="1301.06,-40.92 1303.18,-30.54 1295.05,-37.33 1301.06,-40.92"/>
</g>
<g id="edge70" class="edge">
<path fill="none" stroke="midnightblue" d="M883.93,-349.98C773.33,-349.17 557.47,-341.58 380,-299 302.63,-280.44 273.85,-284.42 214,-232 157.39,-182.42 141.5,-133.88 176,-67 182.64,-54.13 194.25,-43.82 206.18,-35.96"/>
<polygon fill="midnightblue" stroke="midnightblue" points="208.14,-38.86 214.85,-30.66 204.49,-32.88 208.14,-38.86"/>
</g>
<g id="edge64" class="edge">
<path fill="none" stroke="midnightblue" d="M1030.25,-340.29C1129.12,-327.86 1304.17,-305.85 1402.26,-293.52"/>
<polygon fill="midnightblue" stroke="midnightblue" points="1402.89,-296.97 1412.38,-292.25 1402.02,-290.02 1402.89,-296.97"/>
</g>
<g id="edge68" class="edge">
<path fill="none" stroke="midnightblue" d="M989.32,-335.4C1030.61,-317.8 1104.58,-287.61 1170,-268 1227.04,-250.9 1293.66,-236.86 1340.29,-227.96"/>
<polygon fill="midnightblue" stroke="midnightblue" points="1341.04,-231.38 1350.22,-226.08 1339.74,-224.5 1341.04,-231.38"/>
</g>
<g id="edge66" class="edge">
<path fill="none" stroke="midnightblue" d="M899.18,-335.48C849.68,-323.47 779.42,-306.43 734.02,-295.42"/>
<polygon fill="midnightblue" stroke="midnightblue" points="734.71,-291.98 724.16,-293.03 733.06,-298.79 734.71,-291.98"/>
</g>
<g id="edge67" class="edge">
<path fill="none" stroke="midnightblue" d="M883.7,-346.78C759.71,-341.41 519.51,-327.44 494,-299 480.19,-283.6 483.12,-259.22 488.18,-241.14"/>
<polygon fill="midnightblue" stroke="midnightblue" points="491.53,-242.17 491.21,-231.58 484.85,-240.06 491.53,-242.17"/>
</g>
<g id="edge74" class="edge">
<path fill="none" stroke="midnightblue" d="M1120.44,-341.79C1036.17,-332.09 900.52,-314.79 852,-299 805.66,-283.92 756.5,-255.99 726.03,-237.08"/>
<polygon fill="midnightblue" stroke="midnightblue" points="727.53,-233.89 717.2,-231.53 723.8,-239.81 727.53,-233.89"/>
</g>
<g id="edge73" class="edge">
<path fill="none" stroke="midnightblue" d="M1220.44,-335.39C1236.72,-326.56 1256.52,-314.01 1271,-299 1305.98,-262.73 1289.74,-233.79 1328,-201 1361.34,-172.43 1381.44,-186 1420,-165 1440.69,-153.73 1441.15,-142.81 1463,-134 1500.54,-118.86 2105.08,-39.82 2252.68,-20.68"/>
<polygon fill="midnightblue" stroke="midnightblue" points="2253.42,-24.11 2262.89,-19.36 2252.52,-17.17 2253.42,-24.11"/>
</g>
<g id="edge88" class="edge">
<path fill="none" stroke="midnightblue" d="M1212.95,-335.4C1225.58,-326.33 1240.9,-313.53 1251,-299 1264.54,-279.52 1318.94,-121.37 1323,-98 1326.35,-78.7 1322.68,-56.71 1318.54,-40.45"/>
<polygon fill="midnightblue" stroke="midnightblue" points="1321.87,-39.37 1315.82,-30.67 1315.13,-41.24 1321.87,-39.37"/>
</g>
<g id="edge89" class="edge">
<path fill="none" stroke="midnightblue" d="M1120.27,-342.43C1094.68,-339.95 1065.55,-337.24 1039,-335 820.97,-316.61 764.35,-331.72 548,-299 482.6,-289.11 306.22,-277.27 258,-232 205.41,-182.62 225.71,-85.6 239,-40.54"/>
<polygon fill="midnightblue" stroke="midnightblue" points="242.42,-41.35 242.02,-30.76 235.73,-39.28 242.42,-41.35"/>
</g>
<g id="edge80" class="edge">
<path fill="none" stroke="midnightblue" d="M1261.78,-341.59C1371.62,-329.33 1582.24,-305.8 1695.84,-293.12"/>
<polygon fill="midnightblue" stroke="midnightblue" points="1696.3,-296.59 1705.85,-292 1695.53,-289.63 1696.3,-296.59"/>
</g>
<g id="edge82" class="edge">
<path fill="none" stroke="midnightblue" d="M1184.2,-335.43C1176.74,-317.71 1167.72,-287.27 1183,-268 1192.74,-255.72 1277.48,-238.63 1337.87,-227.82"/>
<polygon fill="midnightblue" stroke="midnightblue" points="1338.85,-231.2 1348.08,-226.01 1337.62,-224.31 1338.85,-231.2"/>
</g>
<g id="edge81" class="edge">
<path fill="none" stroke="midnightblue" d="M1120.26,-342.56C1094.66,-340.1 1065.54,-337.36 1039,-335 942.16,-326.38 693.68,-334.06 603,-299 569.17,-285.92 537.14,-258.44 517.33,-239.02"/>
<polygon fill="midnightblue" stroke="midnightblue" points="519.64,-236.38 510.1,-231.76 514.68,-241.32 519.64,-236.38"/>
</g>
<g id="node32" class="node">
<polygon fill="white" stroke="#bfbfbf" points="1192,-274 1192,-293 1242,-293 1242,-274 1192,-274"/>
<text text-anchor="middle" x="1217" y="-280.6" class="t" textLength="33.86">climits</text>
</g>
<g id="edge72" class="edge">
<path fill="none" stroke="midnightblue" d="M1196.64,-335.4C1200.49,-325.76 1205.63,-312.91 1209.79,-302.54"/>
<polygon fill="midnightblue" stroke="midnightblue" points="1213.06,-303.78 1213.52,-293.19 1206.56,-301.18 1213.06,-303.78"/>
</g>
<g id="node33" class="node">
<polygon fill="white" stroke="black" points="814.5,-201.5 814.5,-231.5 937.5,-231.5 937.5,-201.5 814.5,-201.5"/>
<text text-anchor="start" x="822.5" y="-219.1" class="t" textLength="106.57">google/protobuf/stubs</text>
<text text-anchor="middle" x="876" y="-208.1" class="t" textLength="48.80">/logging.h</text>
</g>
<g id="edge75" class="edge">
<path fill="none" stroke="midnightblue" d="M1157.59,-335.5C1100.06,-311.39 982.37,-262.07 918.88,-235.47"/>
<polygon fill="midnightblue" stroke="midnightblue" points="920.12,-232.19 909.54,-231.56 917.41,-238.65 920.12,-232.19"/>
</g>
<g id="node34" class="node">
<polygon fill="white" stroke="red" points="860.5,-268.5 860.5,-298.5 983.5,-298.5 983.5,-268.5 860.5,-268.5"/>
<text text-anchor="start" x="868.5" y="-286.1" class="t" textLength="106.57">google/protobuf/stubs</text>
<text text-anchor="middle" x="922" y="-275.1" class="t" textLength="40.84">/strutil.h</text>
</g>
<g id="edge83" class="edge">
<path fill="none" stroke="midnightblue" d="M1132.96,-335.48C1091.03,-325.34 1034.26,-311.63 990.17,-300.97"/>
<polygon fill="midnightblue" stroke="midnightblue" points="990.94,-297.56 980.4,-298.61 989.3,-304.36 990.94,-297.56"/>
</g>
<g id="edge77" class="edge">
<path fill="none" stroke="midnightblue" d="M937.77,-201.99C995.51,-189.06 1073.54,-170.71 1078,-165 1086.48,-154.14 1086.63,-144.74 1078,-134 1058.35,-109.57 979.69,-96.29 919.78,-89.56"/>
<polygon fill="midnightblue" stroke="midnightblue" points="919.9,-86.05 909.58,-88.46 919.15,-93.01 919.9,-86.05"/>
</g>
<g id="edge78" class="edge">
<path fill="none" stroke="midnightblue" d="M937.59,-203.64C997.67,-191.7 1081.89,-173.82 1095,-165 1139.2,-135.28 1121.41,-98.99 1164,-67 1187.06,-49.69 1216.47,-38.03 1242.93,-30.32"/>
<polygon fill="midnightblue" stroke="midnightblue" points="1244.2,-33.6 1252.9,-27.56 1242.33,-26.85 1244.2,-33.6"/>
</g>
<g id="edge79" class="edge">
<path fill="none" stroke="midnightblue" d="M935.4,-201.43C981.3,-189.96 1038.14,-174.21 1045,-165 1053.23,-153.95 1054.07,-144.37 1045,-134 1005.6,-88.93 837.26,-106.54 778,-98 611.55,-74.01 416.16,-43.38 315.16,-27.37"/>
<polygon fill="midnightblue" stroke="midnightblue" points="315.52,-23.88 305.09,-25.77 314.42,-30.8 315.52,-23.88"/>
</g>
<g id="edge76" class="edge">
<path fill="none" stroke="midnightblue" d="M861.68,-201.4C852.86,-192.71 841.38,-181.4 831.48,-171.66"/>
<polygon fill="midnightblue" stroke="midnightblue" points="833.87,-169.1 824.29,-164.58 828.96,-174.09 833.87,-169.1"/>
</g>
<g id="edge84" class="edge">
<path fill="none" stroke="midnightblue" d="M980.87,-268.49C1022.99,-258.43 1081.01,-244.5 1132,-232 1187.17,-218.47 1200.22,-211.76 1256,-201 1371.84,-178.66 1402.7,-184.81 1519,-165 1531.28,-162.91 1544.68,-160.27 1556.5,-157.81"/>
<polygon fill="midnightblue" stroke="midnightblue" points="1557.34,-161.21 1566.41,-155.72 1555.9,-154.36 1557.34,-161.21"/>
</g>
<g id="edge85" class="edge">
<path fill="none" stroke="midnightblue" d="M873.24,-268.48C838.46,-258.47 791.52,-244.97 754.68,-234.38"/>
<polygon fill="midnightblue" stroke="midnightblue" points="755.64,-231.01 745.06,-231.61 753.71,-237.74 755.64,-231.01"/>
</g>
<g id="edge86" class="edge">
<path fill="none" stroke="midnightblue" d="M959.8,-268.49C1039.37,-238.95 1217.86,-172.36 1230,-165 1268.5,-141.65 1286.22,-138.45 1306,-98 1314.68,-80.24 1315.39,-57.65 1314.23,-40.75"/>
<polygon fill="midnightblue" stroke="midnightblue" points="1317.7,-40.21 1313.27,-30.58 1310.73,-40.87 1317.7,-40.21"/>
</g>
<g id="edge87" class="edge">
<path fill="none" stroke="midnightblue" d="M860.44,-277.94C799.53,-272.07 704.31,-259.16 626,-232 622.32,-230.72 506.37,-166.94 503,-165 430.42,-123.17 414.79,-108.46 342,-67 322.93,-56.14 301.35,-44.61 283.58,-35.31"/>
<polygon fill="midnightblue" stroke="midnightblue" points="285.15,-32.18 274.67,-30.67 281.92,-38.39 285.15,-32.18"/>
</g>
<g id="edge101" class="edge">
<path fill="none" stroke="midnightblue" d="M1635.92,-482.49C1451.36,-479.36 955.1,-467.86 795,-433 685.72,-409.2 612.9,-406.49 582,-299 578.19,-285.76 574.49,-279.55 582,-268 592.06,-252.54 608.06,-241.77 624.92,-234.29"/>
<polygon fill="midnightblue" stroke="midnightblue" points="626.4,-237.47 634.35,-230.47 623.76,-230.99 626.4,-237.47"/>
</g>
<g id="edge97" class="edge">
<path fill="none" stroke="midnightblue" d="M1776.25,-476.49C2003.82,-453.64 2707.18,-381.89 2725,-366 2752.76,-341.24 2744,-321.69 2744,-284.5 2744,-284.5 2744,-284.5 2744,-148.5 2744,-106 2729.74,-89.99 2694,-67 2631.68,-26.91 2402.43,-18.63 2317.2,-16.94"/>
<polygon fill="midnightblue" stroke="midnightblue" points="2317.14,-13.43 2307.08,-16.75 2317.01,-20.43 2317.14,-13.43"/>
</g>
<g id="edge112" class="edge">
<path fill="none" stroke="midnightblue" d="M1776.21,-481.06C1855.4,-476.77 1977.29,-465.02 2009,-433 2082.01,-359.28 2077.7,-295.56 2035,-201 2016.47,-159.96 1998.14,-156.26 1959,-134 1874.58,-85.99 1845.93,-87.53 1751,-67 1621.24,-38.94 1466.36,-25.76 1379.27,-20.15"/>
<polygon fill="midnightblue" stroke="midnightblue" points="1379.45,-16.65 1369.25,-19.52 1379.01,-23.64 1379.45,-16.65"/>
</g>
<g id="edge113" class="edge">
<path fill="none" stroke="midnightblue" d="M1635.93,-484.24C1362.3,-485.81 368.78,-478.8 123,-299 38.3,-237.04 9.74,-145.85 79,-67 103.88,-38.68 143.98,-25.94 178.76,-20.33"/>
<polygon fill="midnightblue" stroke="midnightblue" points="179.49,-23.76 188.88,-18.87 178.49,-16.84 179.49,-23.76"/>
</g>
<g id="edge98" class="edge">
<path fill="none" stroke="midnightblue" d="M1776.32,-480.85C1850.62,-476.39 1960.65,-464.51 1987,-433 2035.27,-375.29 1998.09,-275.75 1979.72,-235.33"/>
<polygon fill="midnightblue" stroke="midnightblue" points="1982.84,-233.75 1975.42,-226.19 1976.51,-236.73 1982.84,-233.75"/>
</g>
<g id="edge111" class="edge">
<path fill="none" stroke="midnightblue" d="M1689.32,-469.19C1648.85,-434.48 1545.36,-345.71 1498.14,-305.21"/>
<polygon fill="midnightblue" stroke="midnightblue" points="1500.4,-302.54 1490.53,-298.68 1495.85,-307.85 1500.4,-302.54"/>
</g>
<g id="edge102" class="edge">
<path fill="none" stroke="midnightblue" d="M1708.81,-469.49C1712.24,-453.12 1718.52,-425.31 1726,-402 1737.53,-366.06 1754.75,-325.44 1764.83,-302.61"/>
<polygon fill="midnightblue" stroke="midnightblue" points="1768.16,-303.75 1769.03,-293.19 1761.77,-300.9 1768.16,-303.75"/>
</g>
<g id="edge96" class="edge">
<path fill="none" stroke="midnightblue" d="M1776.17,-484.3C1918.49,-484.81 2250.9,-480.27 2525,-433 2551.55,-428.42 2740.07,-386.11 2758,-366 2808.3,-309.58 2802.11,-210.43 2796.89,-169.25"/>
<polygon fill="midnightblue" stroke="midnightblue" points="2800.34,-168.67 2795.49,-159.26 2793.41,-169.64 2800.34,-168.67"/>
</g>
<g id="edge99" class="edge">
<path fill="none" stroke="midnightblue" d="M1776.16,-482.38C1866.73,-479.46 2017.54,-469.15 2058,-433 2114.51,-382.51 2068.68,-336.55 2101,-268 2106.13,-257.11 2151.02,-196.93 2173.41,-167.17"/>
<polygon fill="midnightblue" stroke="midnightblue" points="2176.35,-169.09 2179.57,-159 2170.76,-164.88 2176.35,-169.09"/>
</g>
<g id="edge110" class="edge">
<path fill="none" stroke="midnightblue" d="M1699.28,-469.38C1680.42,-431.24 1623.24,-325.18 1545,-268 1518.46,-248.61 1483.87,-236.21 1455.02,-228.55"/>
<polygon fill="midnightblue" stroke="midnightblue" points="1455.64,-225.1 1445.08,-226.04 1453.92,-231.88 1455.64,-225.1"/>
</g>
<g id="edge109" class="edge">
<path fill="none" stroke="midnightblue" d="M1635.69,-478.81C1537.2,-471.54 1363.65,-455.95 1305,-433 1269.44,-419.09 1234.63,-391.6 1213.02,-372.41"/>
<polygon fill="midnightblue" stroke="midnightblue" points="1215.17,-369.64 1205.41,-365.51 1210.47,-374.82 1215.17,-369.64"/>
</g>
<g id="edge100" class="edge">
<path fill="none" stroke="midnightblue" d="M1635.9,-483.97C1412.05,-483.75 722.08,-469.08 603,-299 595.1,-287.71 594.19,-278.59 603,-268 609.48,-260.21 725.29,-240.86 803.97,-228.5"/>
<polygon fill="midnightblue" stroke="midnightblue" points="805,-231.88 814.33,-226.88 803.91,-224.96 805,-231.88"/>
</g>
<g id="node36" class="node">
<polygon fill="white" stroke="#bfbfbf" points="1734.5,-408 1734.5,-427 1787.5,-427 1787.5,-408 1734.5,-408"/>
<text text-anchor="middle" x="1761" y="-414.6" class="t" textLength="36.85">iterator</text>
</g>
<g id="edge95" class="edge">
<path fill="none" stroke="midnightblue" d="M1717.93,-469.4C1726.51,-459.26 1738.1,-445.57 1747.09,-434.94"/>
<polygon fill="midnightblue" stroke="midnightblue" points="1749.86,-437.09 1753.64,-427.19 1744.51,-432.57 1749.86,-437.09"/>
</g>
<g id="node37" class="node">
<polygon fill="white" stroke="red" points="1844,-402.5 1844,-432.5 1978,-432.5 1978,-402.5 1844,-402.5"/>
<text text-anchor="start" x="1852" y="-420.1" class="t" textLength="117.53">google/protobuf/implicit</text>
<text text-anchor="middle" x="1911" y="-409.1" class="t" textLength="90.64">_weak_message.h</text>
</g>
<g id="edge103" class="edge">
<path fill="none" stroke="midnightblue" d="M1750.23,-469.48C1781.51,-459.56 1823.64,-446.2 1856.92,-435.65"/>
<polygon fill="midnightblue" stroke="midnightblue" points="1858.02,-438.97 1866.5,-432.61 1855.91,-432.3 1858.02,-438.97"/>
</g>
<g id="edge104" class="edge">
<path fill="none" stroke="midnightblue" d="M1978.06,-416.68C2101.36,-415.95 2358.45,-409.11 2435,-366 2507.42,-325.22 2550.65,-279.38 2523,-201 2497.55,-128.87 2476.74,-112.16 2415,-67 2385.37,-45.33 2345.23,-31.61 2317.43,-24.03"/>
<polygon fill="midnightblue" stroke="midnightblue" points="2317.99,-20.56 2307.43,-21.42 2316.22,-27.33 2317.99,-20.56"/>
</g>
<g id="edge107" class="edge">
<path fill="none" stroke="midnightblue" d="M1927.84,-402.3C1968.23,-366.53 2063.69,-270.61 2015,-201 1941.48,-95.89 1541.72,-41.45 1379.48,-23.43"/>
<polygon fill="midnightblue" stroke="midnightblue" points="1379.46,-19.9 1369.14,-22.29 1378.7,-26.86 1379.46,-19.9"/>
</g>
<g id="edge108" class="edge">
<path fill="none" stroke="midnightblue" d="M1843.89,-406.97C1828.51,-405.06 1812.21,-403.26 1797,-402 1388.31,-368.1 1283.97,-396.26 875,-366 806.56,-360.94 324.13,-325.91 261,-299 218.34,-280.81 208.26,-269.52 181,-232 154.44,-195.45 151.98,-179.13 154,-134 155.33,-104.13 143.94,-92.22 160,-67 168.7,-53.35 182.5,-42.96 196.58,-35.26"/>
<polygon fill="midnightblue" stroke="midnightblue" points="198.47,-38.23 205.81,-30.59 195.31,-31.98 198.47,-38.23"/>
</g>
<g id="edge105" class="edge">
<path fill="none" stroke="midnightblue" d="M1896.23,-402.37C1870.27,-377.54 1816.64,-326.24 1789.5,-300.28"/>
<polygon fill="midnightblue" stroke="midnightblue" points="1791.63,-297.48 1781.99,-293.1 1786.8,-302.54 1791.63,-297.48"/>
</g>
<g id="edge106" class="edge">
<path fill="none" stroke="midnightblue" d="M1843.84,-407.47C1828.47,-405.53 1812.18,-403.6 1797,-402 1609.22,-382.24 1388.03,-365.44 1271.77,-357.11"/>
<polygon fill="midnightblue" stroke="midnightblue" points="1271.76,-353.6 1261.54,-356.38 1271.26,-360.58 1271.76,-353.6"/>
</g>
<g id="edge119" class="edge">
<path fill="none" stroke="midnightblue" d="M2864.43,-483.12C2998.56,-481.45 3431.41,-473 3478,-433 3506.22,-408.77 3497,-388.69 3497,-351.5 3497,-351.5 3497,-351.5 3497,-282.5 3497,-207.78 3240.08,-167.79 3140.12,-155.06"/>
<polygon fill="midnightblue" stroke="midnightblue" points="3140.48,-151.58 3130.12,-153.81 3139.61,-158.52 3140.48,-151.58"/>
</g>
<g id="edge121" class="edge">
<path fill="none" stroke="midnightblue" d="M2785.74,-483.12C2612.74,-481.25 1923.21,-471.42 1835,-433 1815.41,-424.46 1710.97,-315.18 1697,-299 1658.38,-254.27 1619.4,-196.16 1600.97,-167.71"/>
<polygon fill="midnightblue" stroke="midnightblue" points="1603.89,-165.78 1595.53,-159.27 1598,-169.57 1603.89,-165.78"/>
</g>
<g id="edge118" class="edge">
<path fill="none" stroke="midnightblue" d="M2785.81,-481.56C2752.1,-477.58 2705.34,-465.99 2682,-433 2631.83,-362.08 2767.67,-404.65 2796,-366 2839.96,-306.01 2814.45,-209.26 2800.85,-169"/>
<polygon fill="midnightblue" stroke="midnightblue" points="2804.09,-167.69 2797.47,-159.42 2797.49,-170.02 2804.09,-167.69"/>
</g>
<g id="node39" class="node">
<polygon fill="white" stroke="#bfbfbf" points="3015.5,-274 3015.5,-293 3072.5,-293 3072.5,-274 3015.5,-274"/>
<text text-anchor="middle" x="3044" y="-280.6" class="t" textLength="40.84">ostream</text>
</g>
<g id="edge120" class="edge">
<path fill="none" stroke="midnightblue" d="M2864.16,-483.26C2940.54,-481.89 3104.97,-474.1 3140,-433 3178.35,-388.01 3104.69,-326.68 3065.83,-299.05"/>
<polygon fill="midnightblue" stroke="midnightblue" points="3067.44,-295.91 3057.23,-293.08 3063.45,-301.66 3067.44,-295.91"/>
</g>
<g id="node40" class="node">
<polygon fill="white" stroke="red" points="2366,-268.5 2366,-298.5 2476,-298.5 2476,-268.5 2366,-268.5"/>
<text text-anchor="start" x="2374" y="-286.1" class="t" textLength="93.62">gtest/internal/gtest</text>
<text text-anchor="middle" x="2421" y="-275.1" class="t" textLength="50.80">&#45;internal.h</text>
</g>
<g id="edge122" class="edge">
<path fill="none" stroke="midnightblue" d="M2785.94,-480.22C2716.9,-473.86 2576.64,-458.2 2535,-433 2484.89,-402.67 2448.84,-341.46 2431.88,-307.87"/>
<polygon fill="midnightblue" stroke="midnightblue" points="2434.97,-306.22 2427.43,-298.78 2428.69,-309.3 2434.97,-306.22"/>
</g>
<g id="node41" class="node">
<polygon fill="white" stroke="red" points="2880,-207 2880,-226 3006,-226 3006,-207 2880,-207"/>
<text text-anchor="middle" x="2943" y="-213.6" class="t" textLength="109.56">gtest/gtest&#45;message.h</text>
</g>
<g id="edge148" class="edge">
<path fill="none" stroke="midnightblue" d="M2864.06,-480.05C2894.72,-475.06 2935.52,-462.84 2956,-433 2998.16,-371.57 2967.01,-275.61 2950.98,-235.78"/>
<polygon fill="midnightblue" stroke="midnightblue" points="2954.1,-234.19 2947.02,-226.31 2947.65,-236.89 2954.1,-234.19"/>
</g>
<g id="node42" class="node">
<polygon fill="white" stroke="red" points="2404,-201.5 2404,-231.5 2514,-231.5 2514,-201.5 2404,-201.5"/>
<text text-anchor="start" x="2412" y="-219.1" class="t" textLength="93.62">gtest/internal/gtest</text>
<text text-anchor="middle" x="2459" y="-208.1" class="t" textLength="40.84">&#45;string.h</text>
</g>
<g id="edge134" class="edge">
<path fill="none" stroke="midnightblue" d="M2785.98,-480.12C2745.66,-475.1 2682.26,-462.79 2636,-433 2557.12,-382.2 2496.24,-284.83 2471.31,-240.5"/>
<polygon fill="midnightblue" stroke="midnightblue" points="2474.31,-238.69 2466.4,-231.64 2468.18,-242.08 2474.31,-238.69"/>
</g>
<g id="node43" class="node">
<polygon fill="white" stroke="red" points="2691,-408 2691,-427 2823,-427 2823,-408 2691,-408"/>
<text text-anchor="middle" x="2757" y="-414.6" class="t" textLength="115.54">gtest/gtest&#45;death&#45;test.h</text>
</g>
<g id="edge135" class="edge">
<path fill="none" stroke="midnightblue" d="M2815.83,-474.73C2805.02,-464.4 2786.85,-447.04 2773.56,-434.33"/>
<polygon fill="midnightblue" stroke="midnightblue" points="2775.67,-431.51 2766.03,-427.13 2770.84,-436.57 2775.67,-431.51"/>
</g>
<g id="node44" class="node">
<polygon fill="white" stroke="red" points="3003,-408 3003,-427 3131,-427 3131,-408 3003,-408"/>
<text text-anchor="middle" x="3067" y="-414.6" class="t" textLength="111.55">gtest/gtest&#45;matchers.h</text>
</g>
<g id="edge136" class="edge">
<path fill="none" stroke="midnightblue" d="M2856.89,-474.94C2900.14,-463.32 2977.49,-442.54 3025.31,-429.7"/>
<polygon fill="midnightblue" stroke="midnightblue" points="3026.29,-433.06 3035.04,-427.08 3024.48,-426.3 3026.29,-433.06"/>
</g>
<g id="node45" class="node">
<polygon fill="white" stroke="red" points="2596.5,-341 2596.5,-360 2715.5,-360 2715.5,-341 2596.5,-341"/>
<text text-anchor="middle" x="2656" y="-347.6" class="t" textLength="102.59">gtest/gtest&#45;printers.h</text>
</g>
<g id="edge152" class="edge">
<path fill="none" stroke="midnightblue" d="M2785.9,-477.81C2739.24,-470.13 2665.45,-454.83 2649,-433 2635.28,-414.8 2641.52,-387.38 2648.08,-369.46"/>
<polygon fill="midnightblue" stroke="midnightblue" points="2651.34,-370.73 2651.83,-360.15 2644.85,-368.12 2651.34,-370.73"/>
</g>
<g id="node46" class="node">
<polygon fill="white" stroke="red" points="2290,-341 2290,-360 2426,-360 2426,-341 2290,-341"/>
<text text-anchor="middle" x="2358" y="-347.6" class="t" textLength="119.52">gtest/gtest&#45;param&#45;test.h</text>
</g>
<g id="edge149" class="edge">
<path fill="none" stroke="midnightblue" d="M2785.84,-481.54C2700.46,-476.75 2500.36,-462.63 2440,-433 2409.67,-418.11 2383.77,-387.56 2369.59,-368.39"/>
<polygon fill="midnightblue" stroke="midnightblue" points="2372.43,-366.34 2363.76,-360.24 2366.73,-370.41 2372.43,-366.34"/>
</g>
<g id="node47" class="node">
<polygon fill="white" stroke="black" points="2841.5,-408 2841.5,-427 2946.5,-427 2946.5,-408 2841.5,-408"/>
<text text-anchor="middle" x="2894" y="-414.6" class="t" textLength="88.64">gtest/gtest_prod.h</text>
</g>
<g id="edge153" class="edge">
<path fill="none" stroke="midnightblue" d="M2834.31,-474.73C2845.27,-464.4 2863.71,-447.04 2877.19,-434.33"/>
<polygon fill="midnightblue" stroke="midnightblue" points="2879.96,-436.53 2884.84,-427.13 2875.16,-431.44 2879.96,-436.53"/>
</g>
<g id="node48" class="node">
<polygon fill="white" stroke="black" points="2148,-341 2148,-360 2272,-360 2272,-341 2148,-341"/>
<text text-anchor="middle" x="2210" y="-347.6" class="t" textLength="107.57">gtest/gtest&#45;test&#45;part.h</text>
</g>
<g id="edge154" class="edge">
<path fill="none" stroke="midnightblue" d="M2785.72,-482.77C2709.19,-480.52 2535.33,-471.22 2395,-433 2334.64,-416.56 2268.65,-383.5 2234.13,-364.94"/>
<polygon fill="midnightblue" stroke="midnightblue" points="2235.72,-361.82 2225.26,-360.11 2232.37,-367.97 2235.72,-361.82"/>
</g>
<g id="node49" class="node">
<polygon fill="white" stroke="red" points="3187,-408 3187,-427 3319,-427 3319,-408 3187,-408"/>
<text text-anchor="middle" x="3253" y="-414.6" class="t" textLength="115.54">gtest/gtest&#45;typed&#45;test.h</text>
</g>
<g id="edge159" class="edge">
<path fill="none" stroke="midnightblue" d="M2864.21,-478.27C2928.72,-469.56 3061.23,-451.23 3173,-433 3180.92,-431.71 3189.27,-430.27 3197.47,-428.82"/>
<polygon fill="midnightblue" stroke="midnightblue" points="3198.13,-432.26 3207.36,-427.06 3196.9,-425.37 3198.13,-432.26"/>
</g>
<g id="node50" class="node">
<polygon fill="white" stroke="black" points="3337,-408 3337,-427 3469,-427 3469,-408 3337,-408"/>
<text text-anchor="middle" x="3403" y="-414.6" class="t" textLength="115.54">gtest/gtest_pred_impl.h</text>
</g>
<g id="edge160" class="edge">
<path fill="none" stroke="midnightblue" d="M2864.17,-480.42C2948.02,-474 3150.32,-457.72 3319,-433 3327.11,-431.81 3335.68,-430.35 3344.13,-428.82"/>
<polygon fill="midnightblue" stroke="midnightblue" points="3344.78,-432.26 3353.98,-427 3343.51,-425.38 3344.78,-432.26"/>
</g>
<g id="edge128" class="edge">
<path fill="none" stroke="midnightblue" d="M2396.81,-268.49C2362.67,-249.49 2297.84,-216.18 2238,-201 2119.87,-171.04 1739.74,-155.69 1623.85,-151.62"/>
<polygon fill="midnightblue" stroke="midnightblue" points="1623.9,-148.12 1613.79,-151.27 1623.66,-155.11 1623.9,-148.12"/>
</g>
<g id="edge124" class="edge">
<path fill="none" stroke="midnightblue" d="M2368.02,-268.44C2288.05,-247.42 2140.13,-209.37 2086,-201 1853.55,-165.07 1790.89,-197.96 1558,-165 1545.55,-163.24 1531.96,-160.46 1520.3,-157.81"/>
<polygon fill="midnightblue" stroke="midnightblue" points="1520.75,-154.32 1510.22,-155.44 1519.15,-161.13 1520.75,-154.32"/>
</g>
<g id="edge125" class="edge">
<path fill="none" stroke="midnightblue" d="M2365.77,-275.96C2284.65,-266.04 2137.36,-246.8 2086,-232 2052.91,-222.46 2048.52,-208.89 2015,-201 1918.39,-178.26 1195.21,-155.7 1046.63,-151.28"/>
<polygon fill="midnightblue" stroke="midnightblue" points="1046.31,-147.77 1036.21,-150.97 1046.1,-154.77 1046.31,-147.77"/>
</g>
<g id="edge126" class="edge">
<path fill="none" stroke="midnightblue" d="M2413.7,-268.36C2408.48,-258.24 2401.3,-244.29 2395,-232 2357.34,-158.54 2312.68,-70.87 2293.96,-34.1"/>
<polygon fill="midnightblue" stroke="midnightblue" points="2297.05,-32.45 2289.39,-25.13 2290.81,-35.63 2297.05,-32.45"/>
</g>
<g id="edge127" class="edge">
<path fill="none" stroke="midnightblue" d="M2365.89,-275.3C2294.7,-265.9 2166.97,-248.66 2058,-232 2044.25,-229.9 2029.3,-227.46 2015.74,-225.19"/>
<polygon fill="midnightblue" stroke="midnightblue" points="2016.12,-221.71 2005.68,-223.5 2014.96,-228.61 2016.12,-221.71"/>
</g>
<g id="edge123" class="edge">
<path fill="none" stroke="midnightblue" d="M2460.56,-268.5C2534.93,-242.18 2694.18,-185.82 2762.17,-161.76"/>
<polygon fill="midnightblue" stroke="midnightblue" points="2763.64,-164.96 2771.9,-158.32 2761.3,-158.36 2763.64,-164.96"/>
</g>
<g id="edge129" class="edge">
<path fill="none" stroke="midnightblue" d="M2476.37,-275.61C2571.05,-263.82 2764.07,-239.78 2869.77,-226.62"/>
<polygon fill="midnightblue" stroke="midnightblue" points="2870.23,-230.09 2879.72,-225.38 2869.37,-223.14 2870.23,-230.09"/>
</g>
<g id="edge132" class="edge">
<path fill="none" stroke="midnightblue" d="M2429.25,-268.4C2434.03,-260.22 2440.16,-249.73 2445.62,-240.39"/>
<polygon fill="midnightblue" stroke="midnightblue" points="2448.75,-241.98 2450.77,-231.58 2442.7,-238.44 2448.75,-241.98"/>
</g>
<g id="edge131" class="edge">
<path fill="none" stroke="midnightblue" d="M2963.98,-206.87C2991.25,-195.65 3039.07,-175.98 3070.39,-163.09"/>
<polygon fill="midnightblue" stroke="midnightblue" points="3072.02,-166.21 3079.93,-159.17 3069.35,-159.74 3072.02,-166.21"/>
</g>
<g id="edge130" class="edge">
<path fill="none" stroke="midnightblue" d="M2923.21,-206.87C2897.61,-195.7 2852.79,-176.15 2823.25,-163.26"/>
<polygon fill="midnightblue" stroke="midnightblue" points="2824.43,-159.96 2813.87,-159.17 2821.63,-166.37 2824.43,-159.96"/>
</g>
<g id="edge133" class="edge">
<path fill="none" stroke="midnightblue" d="M2455.86,-201.39C2448.79,-172.64 2429.14,-106.66 2390,-67 2369.83,-46.56 2339.73,-33.26 2316.92,-25.46"/>
<polygon fill="midnightblue" stroke="midnightblue" points="2317.93,-22.11 2307.33,-22.36 2315.77,-28.77 2317.93,-22.11"/>
</g>
<g id="edge137" class="edge">
<path fill="none" stroke="midnightblue" d="M3068.09,-407.95C3072.86,-370.67 3091.88,-221.83 3098.62,-169.12"/>
<polygon fill="midnightblue" stroke="midnightblue" points="3102.1,-169.51 3099.89,-159.15 3095.15,-168.63 3102.1,-169.51"/>
</g>
<g id="edge139" class="edge">
<path fill="none" stroke="midnightblue" d="M3128.87,-407.99C3271.46,-387.52 3611,-333.64 3611,-284.5 3611,-284.5 3611,-284.5 3611,-148.5 3611,-14.19 2519.9,-14.93 2317.2,-16.23"/>
<polygon fill="midnightblue" stroke="midnightblue" points="2317.16,-12.73 2307.18,-16.3 2317.21,-19.73 2317.16,-12.73"/>
</g>
<g id="edge138" class="edge">
<path fill="none" stroke="midnightblue" d="M3065.49,-407.84C3061.8,-386.67 3052.27,-331.95 3047.23,-303.03"/>
<polygon fill="midnightblue" stroke="midnightblue" points="3050.65,-302.27 3045.48,-293.02 3043.75,-303.47 3050.65,-302.27"/>
</g>
<g id="edge147" class="edge">
<path fill="none" stroke="midnightblue" d="M3004.52,-407.98C2988.7,-405.92 2971.74,-403.8 2956,-402 2792.72,-383.35 2746.13,-410.75 2588,-366 2537.78,-351.79 2484.33,-322.99 2451.8,-303.71"/>
<polygon fill="midnightblue" stroke="midnightblue" points="2453.57,-300.7 2443.2,-298.55 2449.97,-306.7 2453.57,-300.7"/>
</g>
<g id="edge140" class="edge">
<path fill="none" stroke="midnightblue" d="M3012.85,-407.94C2937.28,-395.98 2800.45,-374.34 2719.96,-361.61"/>
<polygon fill="midnightblue" stroke="midnightblue" points="2720.37,-358.14 2709.95,-360.03 2719.28,-365.05 2720.37,-358.14"/>
</g>
<g id="edge145" class="edge">
<path fill="none" stroke="midnightblue" d="M2648.64,-340.92C2621.97,-309.9 2531.5,-205.08 2523,-201 2481.72,-181.2 1787.33,-157.04 1624.14,-151.62"/>
<polygon fill="midnightblue" stroke="midnightblue" points="1623.86,-148.1 1613.75,-151.27 1623.63,-155.1 1623.86,-148.1"/>
</g>
<g id="edge142" class="edge">
<path fill="none" stroke="midnightblue" d="M2660.36,-340.79C2670.34,-320.01 2694,-265.67 2694,-217.5 2694,-217.5 2694,-217.5 2694,-148.5 2694,-110.74 2698.7,-91.54 2670,-67 2617.23,-21.88 2400.15,-16.67 2317.32,-16.36"/>
<polygon fill="midnightblue" stroke="midnightblue" points="2317.23,-12.86 2307.22,-16.35 2317.22,-19.86 2317.23,-12.86"/>
</g>
<g id="edge143" class="edge">
<path fill="none" stroke="midnightblue" d="M2601.59,-340.99C2541.58,-331.45 2442.21,-315.18 2357,-299 2232.9,-275.43 2087.27,-243.52 2015.54,-227.52"/>
<polygon fill="midnightblue" stroke="midnightblue" points="2016.03,-224.04 2005.51,-225.28 2014.5,-230.88 2016.03,-224.04"/>
</g>
<g id="edge144" class="edge">
<path fill="none" stroke="midnightblue" d="M2653.11,-340.93C2643.81,-314.81 2611.94,-235.83 2556,-201 2500.02,-166.14 2299.36,-154.8 2219.32,-151.6"/>
<polygon fill="midnightblue" stroke="midnightblue" points="2218.97,-148.09 2208.85,-151.21 2218.71,-155.08 2218.97,-148.09"/>
</g>
<g id="edge141" class="edge">
<path fill="none" stroke="midnightblue" d="M2707.12,-340.94C2785.81,-327.75 2934.85,-302.78 3005.28,-290.99"/>
<polygon fill="midnightblue" stroke="midnightblue" points="3006.2,-294.38 3015.49,-289.28 3005.05,-287.48 3006.2,-294.38"/>
</g>
<g id="edge146" class="edge">
<path fill="none" stroke="midnightblue" d="M2624.79,-340.87C2588.39,-330.8 2527.34,-313.91 2481.54,-301.24"/>
<polygon fill="midnightblue" stroke="midnightblue" points="2482.29,-297.82 2471.72,-298.53 2480.42,-304.57 2482.29,-297.82"/>
</g>
<g id="edge150" class="edge">
<path fill="none" stroke="midnightblue" d="M2351.58,-340.83C2334.17,-317.49 2284.26,-251.68 2238,-201 2226.89,-188.83 2213.53,-175.89 2203.14,-166.16"/>
<polygon fill="midnightblue" stroke="midnightblue" points="2205.25,-163.34 2195.54,-159.12 2200.5,-168.48 2205.25,-163.34"/>
</g>
<g id="edge151" class="edge">
<path fill="none" stroke="midnightblue" d="M2366.5,-340.73C2375.09,-331.86 2388.71,-317.81 2400.19,-305.97"/>
<polygon fill="midnightblue" stroke="midnightblue" points="2402.9,-308.21 2407.34,-298.59 2397.87,-303.33 2402.9,-308.21"/>
</g>
<g id="edge156" class="edge">
<path fill="none" stroke="midnightblue" d="M2207.49,-340.69C2202.42,-324.32 2189.47,-288.94 2167,-268 2112.99,-217.66 2086.22,-220.46 2015,-201 1873.53,-162.35 1697.58,-153.28 1624.41,-151.15"/>
<polygon fill="midnightblue" stroke="midnightblue" points="1624.06,-147.64 1613.97,-150.88 1623.87,-154.64 1624.06,-147.64"/>
</g>
<g id="edge155" class="edge">
<path fill="none" stroke="midnightblue" d="M2199.75,-340.73C2187.56,-330.31 2166.98,-312.71 2152.09,-299.97"/>
<polygon fill="midnightblue" stroke="midnightblue" points="2153.96,-296.97 2144.09,-293.13 2149.41,-302.29 2153.96,-296.97"/>
</g>
<g id="edge157" class="edge">
<path fill="none" stroke="midnightblue" d="M2238.02,-340.87C2270.5,-330.86 2324.83,-314.13 2365.87,-301.48"/>
<polygon fill="midnightblue" stroke="midnightblue" points="2366.94,-304.82 2375.46,-298.53 2364.88,-298.13 2366.94,-304.82"/>
</g>
<g id="edge158" class="edge">
<path fill="none" stroke="midnightblue" d="M2224.9,-340.94C2251.31,-325.83 2308.16,-293.61 2357,-268 2377.9,-257.04 2401.51,-245.31 2420.74,-235.92"/>
<polygon fill="midnightblue" stroke="midnightblue" points="2422.34,-239.03 2429.8,-231.51 2419.28,-232.74 2422.34,-239.03"/>
</g>
<g id="edge161" class="edge">
<path fill="none" stroke="midnightblue" d="M3371.29,-427C3360.45,-429.17 3348.28,-431.35 3337,-433 3168.31,-457.72 2965.99,-474 2874.29,-480.42"/>
<polygon fill="midnightblue" stroke="midnightblue" points="2873.92,-476.94 2864.18,-481.12 2874.4,-483.92 2873.92,-476.94"/>
</g>
</g>
</svg>

</body>
</html>
